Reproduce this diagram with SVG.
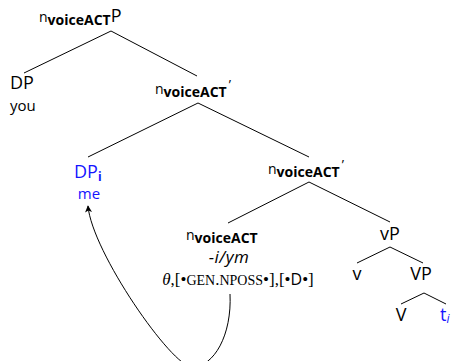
<svg xmlns="http://www.w3.org/2000/svg" width="452" height="361" viewBox="0 0 452 361">
  <style>
    .lab { font-family: "Open Sans", "DejaVu Sans", sans-serif; font-size: 18px; fill: #000; }
    .blue { fill: #1414ff; }
    .n { font-size: 14px; }
    .sub { font-size: 14px; font-weight: 700; }
    .prime { font-size: 13px; }
    .word { font-family: "Open Sans", "DejaVu Sans", sans-serif; font-size: 15px; }
    .morph { font-family: "Open Sans", "DejaVu Sans", sans-serif; font-size: 17px; font-style: italic; letter-spacing: 0.5px; }
    .feat { font-family: "Liberation Serif", serif; font-size: 17px; }
    .sc { font-size: 14px; }
    .edge { stroke: #000; stroke-width: 1; fill: none; }
  </style>
  <defs>
    <marker id="head" viewBox="0 0 10 10" refX="9" refY="5" markerWidth="7" markerHeight="7" orient="auto" markerUnits="userSpaceOnUse">
      <path d="M0,0 L10,5 L0,10 L2.5,5 Z" fill="#000"/>
    </marker>
  </defs>

  <!-- tree branches -->
  <g id="edges" class="edge">
    <line x1="111" y1="31" x2="24" y2="73"/>
    <line x1="111" y1="31" x2="197" y2="76"/>
    <line x1="198" y1="103" x2="88" y2="157"/>
    <line x1="198" y1="103" x2="309" y2="157"/>
    <line x1="309" y1="182" x2="228" y2="223"/>
    <line x1="309" y1="182" x2="390" y2="222"/>
    <line x1="390" y1="247" x2="357" y2="263"/>
    <line x1="390" y1="247" x2="423" y2="263"/>
    <line x1="424" y1="293" x2="401" y2="304"/>
    <line x1="424" y1="293" x2="446" y2="304"/>
    <!-- movement arrow from the head back up to the specifier -->
    <path d="M230,294 C232,335 214,367 192,367 C172,367 92,252 88,206" marker-end="url(#head)"/>
  </g>

  <g id="nvoiceP">
    <text class="lab" x="39" y="22"><tspan class="n">n</tspan><tspan class="sub" dy="3">voiceACT</tspan><tspan dy="-3">P</tspan></text>
  </g>

  <g id="dp-you">
    <text class="lab" x="10" y="89">DP</text>
    <text class="word" x="10" y="111">you</text>
  </g>

  <g id="nvoice-bar1">
    <text class="lab" x="155" y="94"><tspan class="n">n</tspan><tspan class="sub" dy="3">voiceACT</tspan><tspan class="prime" dx="2" dy="-8">’</tspan></text>
  </g>

  <g id="dp-me">
    <text class="lab blue" x="74" y="178">DP<tspan font-size="12" font-weight="700" dy="3">i</tspan></text>
    <text class="word blue" x="89" y="199" text-anchor="middle">me</text>
  </g>

  <g id="nvoice-bar2">
    <text class="lab" x="268" y="174"><tspan class="n">n</tspan><tspan class="sub" dy="3">voiceACT</tspan><tspan class="prime" dx="2" dy="-8">’</tspan></text>
  </g>

  <g id="nvoice-head">
    <text class="lab" x="186" y="240"><tspan class="n">n</tspan><tspan class="sub" dy="3">voiceACT</tspan></text>
    <text class="morph" x="229" y="263" text-anchor="middle">-i/ym</text>
    <text class="feat" x="238" y="285" text-anchor="middle"><tspan font-style="italic">θ</tspan>,[•<tspan class="sc">GEN</tspan>.<tspan class="sc">NPOSS</tspan>•],[•<tspan font-family="Open Sans, sans-serif" font-size="16">D</tspan>•]</text>
  </g>

  <g id="vP">
    <text class="lab" x="390" y="240" text-anchor="middle">vP</text>
  </g>

  <g id="v">
    <text class="lab" x="357" y="280" text-anchor="middle">v</text>
  </g>

  <g id="VP">
    <text class="lab" x="421" y="280" text-anchor="middle">VP</text>
  </g>

  <g id="V">
    <text class="lab" x="401" y="321" text-anchor="middle">V</text>
  </g>

  <g id="trace">
    <text class="lab blue" x="440" y="321">t<tspan font-size="12" font-style="italic" dy="2">i</tspan></text>
  </g>
</svg>
